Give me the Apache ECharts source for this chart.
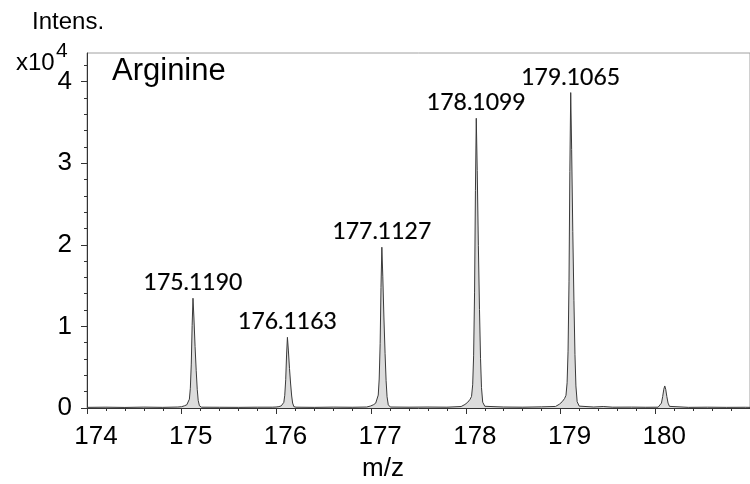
<!DOCTYPE html>
<html><head><meta charset="utf-8">
<script src="https://cdn.jsdelivr.net/npm/echarts@6/dist/echarts.min.js"></script>
<style>html,body{margin:0;padding:0;background:#fff}#c{width:750px;height:484px}</style>
</head><body><div id="c"></div>
<script>
// ---- data (m/z, intensity in units of 1e4) ----
const xTicks = [174, 175, 176, 177, 178, 179, 180];
const yTicks = [0, 1, 2, 3, 4];
const yMinorTicks = [0.2,0.4,0.6,0.8,1.2,1.4,1.6,1.8,2.2,2.4,2.6,2.8,3.2,3.4,3.6,3.8,4.2];

const baseline = [
  [174.00,0.008],[174.20,0.010],[174.40,0.007],[174.60,0.011],[174.80,0.008],
  [175.40,0.009],[175.60,0.008],[175.80,0.010],
  [176.40,0.008],[176.60,0.011],[176.80,0.009],
  [177.40,0.010],[177.60,0.012],[177.80,0.010],
  [178.40,0.012],[178.60,0.010],[178.80,0.014],
  [179.35,0.012],[179.45,0.018],[179.55,0.010],[179.75,0.011],[179.90,0.009],
  [180.35,0.008],[180.55,0.010],[180.75,0.008],[180.95,0.009],[181.00,0.008]
];
const peak175 = [
  [174.959,0.012],[174.999,0.016],[175.029,0.027],[175.054,0.040],[175.069,0.054],
  [175.081,0.108],[175.091,0.242],[175.101,0.538],[175.110,1.009],[175.119,1.345],
  [175.129,1.103],[175.141,0.753],[175.153,0.457],[175.164,0.229],[175.174,0.094],
  [175.187,0.027],[175.209,0.010]
];
const peak176 = [
  [175.956,0.010],[175.996,0.012],[176.026,0.017],[176.051,0.026],[176.066,0.035],
  [176.078,0.069],[176.088,0.156],[176.098,0.346],[176.107,0.650],[176.116,0.866],
  [176.126,0.710],[176.138,0.485],[176.150,0.294],[176.161,0.147],[176.171,0.061],
  [176.184,0.017],[176.206,0.010]
];
const peak177 = [
  [176.953,0.012],[176.993,0.024],[177.023,0.039],[177.048,0.059],[177.063,0.079],
  [177.075,0.158],[177.085,0.355],[177.095,0.788],[177.104,1.478],[177.113,1.970],
  [177.123,1.615],[177.135,1.103],[177.147,0.670],[177.158,0.335],[177.168,0.138],
  [177.181,0.039],[177.203,0.012]
];
const peak178 = [
  [177.950,0.018],[177.990,0.043],[178.020,0.071],[178.045,0.107],[178.060,0.142],
  [178.072,0.284],[178.082,0.639],[178.092,1.420],[178.101,2.663],[178.110,3.550],
  [178.120,2.911],[178.132,1.988],[178.144,1.207],[178.155,0.604],[178.165,0.249],
  [178.178,0.071],[178.200,0.021]
];
const peak179 = [
  [178.947,0.019],[178.987,0.046],[179.017,0.077],[179.042,0.116],[179.057,0.155],
  [179.069,0.309],[179.079,0.696],[179.089,1.546],[179.098,2.899],[179.107,3.865],
  [179.117,3.169],[179.129,2.164],[179.141,1.314],[179.152,0.657],[179.162,0.271],
  [179.175,0.077],[179.197,0.023]
];
const peak180 = [
  [180.030,0.010],[180.050,0.020],[180.065,0.060],[180.078,0.140],[180.090,0.230],
  [180.100,0.270],[180.110,0.230],[180.122,0.140],[180.135,0.060],[180.150,0.020],
  [180.170,0.010]
];
const peakMz = [175.1190, 176.1163, 177.1127, 178.1099, 179.1065];
const peakIntensity = [1.345, 0.866, 1.970, 3.550, 3.865];
const peakLabels = ['175.1190', '176.1163', '177.1127', '178.1099', '179.1065'];

// ---- chart ----
const spectrum = [].concat(baseline, peak175, peak176, peak177, peak178, peak179, peak180)
  .sort((a, b) => a[0] - b[0]);
const FONT = '"Liberation Sans", Arial, sans-serif';
const axisColor = '#333333';

const chart = echarts.init(document.getElementById('c'), null, {renderer: 'canvas'});
chart.setOption({
  animation: false,
  backgroundColor: '#ffffff',
  grid: {left: 87, top: 53, right: -4, bottom: 76, show: true, borderColor: '#a0a0a0', borderWidth: 1, backgroundColor: 'transparent'},
  xAxis: {
    type: 'value', min: 174, max: 181, interval: 1,
    axisLine: {show: true, lineStyle: {color: axisColor, width: 1}},
    axisTick: {show: true, inside: false, length: 6, lineStyle: {color: axisColor}, customValues: xTicks},
    minorTick: {show: true, splitNumber: 5, length: 3, lineStyle: {color: axisColor}},
    axisLabel: {show: true, customValues: xTicks, fontSize: 26, fontFamily: FONT, color: '#000', margin: 16, padding: [0, 0, 0, 18]},
    splitLine: {show: false}, minorSplitLine: {show: false}
  },
  yAxis: [{
    type: 'value', min: 0, max: 4.35, interval: 1,
    axisLine: {show: true, lineStyle: {color: axisColor, width: 1}},
    axisTick: {show: true, inside: false, length: 6, lineStyle: {color: axisColor}, customValues: yTicks},
    axisLabel: {show: true, customValues: yTicks, fontSize: 26, fontFamily: FONT, color: '#000', margin: 15},
    splitLine: {show: false}
  }, {
    type: 'value', min: 0, max: 4.35, interval: 0.2, position: 'left',
    axisLine: {show: false},
    axisTick: {show: true, inside: false, length: 3, lineStyle: {color: axisColor}, customValues: yMinorTicks},
    axisLabel: {show: false},
    splitLine: {show: false}
  }],
  series: [{
    type: 'line', data: spectrum, xAxisIndex: 0, yAxisIndex: 0,
    showSymbol: false, smooth: false,
    lineStyle: {color: '#3a3a3a', width: 1},
    areaStyle: {color: '#dcdcdc', opacity: 1},
    silent: true, z: 2
  }, {
    type: 'scatter', yAxisIndex: 0,
    data: peakMz.map((m, i) => [m, peakIntensity[i]]),
    symbolSize: 2, itemStyle: {color: 'rgba(255,255,255,0)'},
    label: {show: true, position: 'top', distance: 3, fontSize: 23, fontFamily: 'Lato, "Open Sans", sans-serif', color: '#000000', opacity: 1,
      textBorderColor: '#000000', textBorderWidth: 0.2,
      formatter: p => peakLabels[p.dataIndex]},
    silent: true, z: 3
  }],
  graphic: [
    {type: 'text', x: 32, y: 22, style: {text: 'Intens.', font: '24px ' + FONT, fill: '#000', textAlign: 'left', textVerticalAlign: 'middle'}},
    {type: 'text', x: 16, y: 63, style: {text: 'x10', font: '24px ' + FONT, fill: '#000', textAlign: 'left', textVerticalAlign: 'middle'}},
    {type: 'text', x: 56, y: 51, style: {text: '4', font: '21px ' + FONT, fill: '#000', textAlign: 'left', textVerticalAlign: 'middle'}},
    {type: 'text', x: 112, y: 71, style: {text: 'Arginine', font: '31px ' + FONT, fill: '#000', textAlign: 'left', textVerticalAlign: 'middle'}},
    {type: 'text', x: 383, y: 469, style: {text: 'm/z', font: '26px ' + FONT, fill: '#000', textAlign: 'center', textVerticalAlign: 'middle'}}
  ]
});
</script>
</body></html>
